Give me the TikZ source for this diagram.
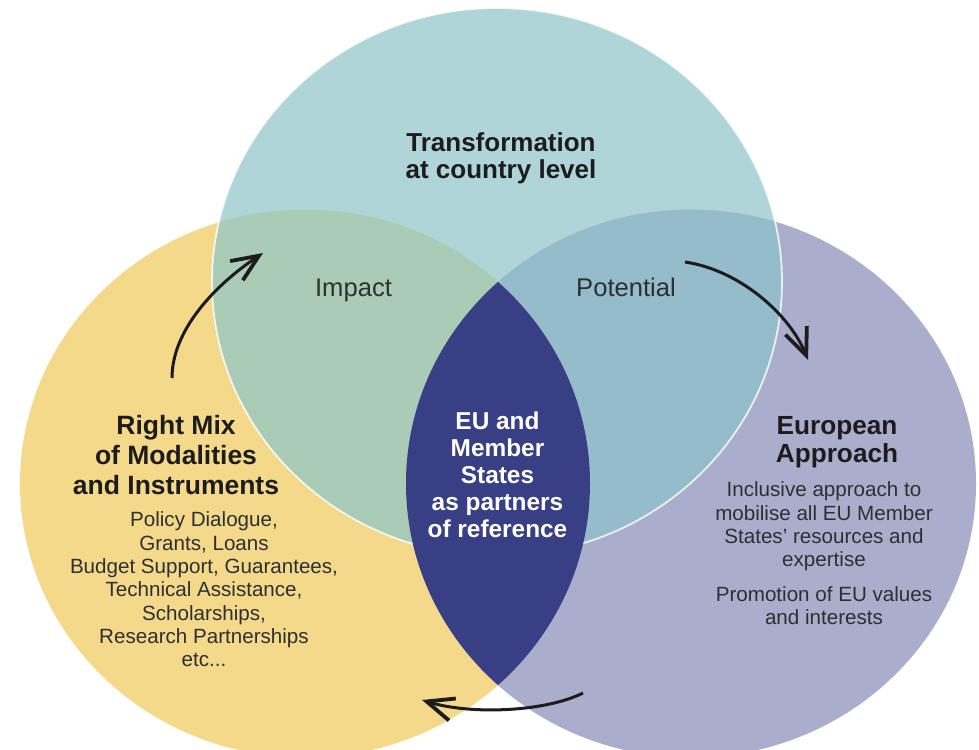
\documentclass[tikz,border=0pt]{standalone}
\usepackage{fontspec}
\setmainfont{Liberation Sans}
\usepackage{tikz}
\usetikzlibrary{arrows.meta}
\definecolor{lagoon}{RGB}{175, 213, 216}
\definecolor{sand}{RGB}{244, 217, 138}
\definecolor{lilac}{RGB}{171, 173, 204}
\definecolor{sage}{RGB}{170, 203, 182}
\definecolor{steel}{RGB}{148, 188, 203}
\definecolor{midnight}{RGB}{56, 63, 133}
\definecolor{ink}{RGB}{28, 28, 30}
\definecolor{graphite}{RGB}{45, 48, 50}

\begin{document}
\begin{tikzpicture}[x=0.5pt, y=-0.5pt,
    head/.style={text=ink, align=center, inner sep=0pt},
    body/.style={text=graphite, align=center, inner sep=0pt,
                 font=\fontsize{10.3}{11.65}\selectfont},
    overlap/.style={text=graphite, inner sep=0pt, anchor=base,
                 font=\fontsize{12.8}{14}\selectfont},
    cycle arrow/.style={line width=1.5pt, ink,
                 -{Straight Barb[length=13.5pt, width=11.5pt, line width=1.9pt]}}]
            \useasboundingbox (0,0) rectangle (979,749);
            \clip             (0,0) rectangle (979,749);
            % Circle centres
            \coordinate (top) at (497, 282.0);
            \coordinate (lft) at (305, 483.5);
            \coordinate (rgt) at (691, 483.5);
            % Three circles
            \fill[sand]   (lft) ellipse (142.5pt and 137pt);
            \fill[lilac]  (rgt) ellipse (142.5pt and 137pt);
            \fill[lagoon] (top) ellipse (142.5pt and 137pt);
            % Overlaps with the top circle
            \begin{scope}
                \clip (lft) ellipse (142.5pt and 137pt);
                \fill[sage]  (top) ellipse (142.5pt and 137pt);
            \end{scope}
            \begin{scope}
                \clip (rgt) ellipse (142.5pt and 137pt);
                \fill[steel] (top) ellipse (142.5pt and 137pt);
            \end{scope}
            \draw[white, opacity=0.8, line width=0.9pt] (top) ellipse (142.5pt and 137pt);
            % Lens of the two lower circles
            \begin{scope}
                \clip (lft) ellipse (142.5pt and 137pt);
                \fill[midnight] (rgt) ellipse (142.5pt and 137pt);
            \end{scope}
            % Labels
            \node[head, font=\fontsize{13}{13.5}\selectfont\bfseries] (country) at (501, 158)
                 {Transformation\\at country level};
            \node[overlap] (impact)    at (353.5, 296) {Impact};
            \node[overlap] (potential) at (626.0, 296) {Potential};
            \node[head, font=\fontsize{13.25}{15}\selectfont\bfseries] (mix) at (176, 455.5)
                 {Right Mix\\of Modalities\\and Instruments};
            \node[body] (tools) at (204, 589.5)
                 {Policy Dialogue,\\Grants, Loans\\Budget Support, Guarantees,\\Technical Assistance,\\Scholarships,\\Research Partnerships\\etc...};
            \node[head, text=white, font=\fontsize{12.2}{13.5}\selectfont\bfseries] (partners) at (497.5, 475)
                 {EU and\\Member\\States\\as partners\\of reference};
            \node[head, font=\fontsize{13.1}{14}\selectfont\bfseries] (approach) at (837, 442)
                 {European\\Approach};
            \node[body] (values) at (824, 553.5)
                 {Inclusive approach to\\mobilise all EU Member\\States' resources and\\expertise\\[5.85pt]Promotion of EU values\\and interests};
            % Cycle arrows
            \coordinate (mixout)      at (172, 378);
            \coordinate (impactin)    at (263, 253);
            \coordinate (potout)      at (685, 262);
            \coordinate (approachin)  at (808, 360);
            \coordinate (approachout) at (583, 693);
            \coordinate (mixin)       at (422, 700);
            \draw[cycle arrow] (mixout)      .. controls (172, 330) and (215, 285) .. (impactin);
            \draw[cycle arrow] (potout)      .. controls (740, 270) and (790, 315) .. (approachin);
            \draw[cycle arrow] (approachout) .. controls (545, 712) and (470, 715) .. (mixin);
        \end{tikzpicture}
\end{document}
